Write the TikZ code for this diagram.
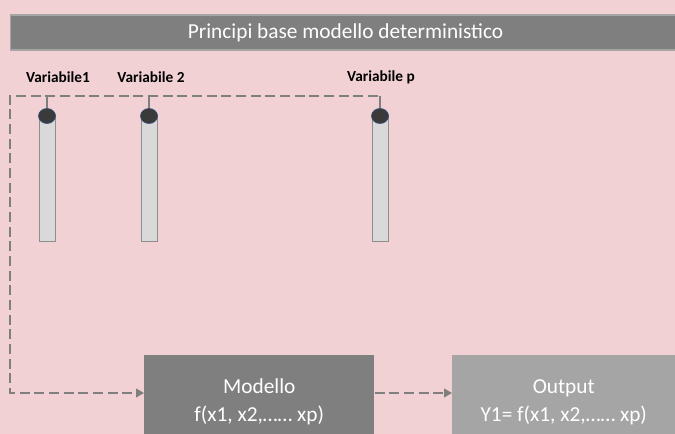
\documentclass[tikz,border=0pt]{standalone}
\usepackage{fontspec}
\setmainfont{Carlito}
\usetikzlibrary{arrows.meta,shapes.geometric,positioning}
\definecolor{bg}{HTML}{F1D1D4}
\definecolor{dark}{HTML}{7F7F7F}
\definecolor{light}{HTML}{A5A5A5}
\definecolor{rod}{HTML}{D9D9D9}
\definecolor{rodline}{HTML}{8E8E8E}
\definecolor{knob}{HTML}{3A3A3A}
\definecolor{knobline}{HTML}{34507A}
\tikzset{
  bar/.style={draw=light, line width=0.8pt, fill=dark, text=white, font=\fontsize{16}{18}\selectfont,
    minimum width=502.5pt, minimum height=26.25pt, inner sep=0pt},
  varlab/.style={font=\fontsize{11.5}{13}\selectfont\bfseries, inner sep=0pt},
  rodbox/.style={draw=rodline, line width=0.6pt, fill=rod, minimum width=12pt, minimum height=95pt, inner sep=0pt},
  knobnode/.style={ellipse, draw=knobline, line width=0.5pt, fill=knob, minimum width=12.75pt, minimum height=11.25pt, inner sep=0pt},
  tick/.style={draw=dark, line width=2pt},
  flow/.style={draw=dark, line width=2.1pt, dash pattern=on 7.5pt off 3.5pt,
    -{Triangle[length=6pt,width=6.5pt]}},
  blk/.style={minimum height=70.5pt, inner sep=0pt, align=center, text=white,
    font=\fontsize{16}{21}\selectfont},
}
\begin{document}
\begin{tikzpicture}[x=0.75pt,y=-0.75pt]
  \fill[bg] (0,0) rectangle (675,434);
  \useasboundingbox (0,0) rectangle (675,434);

  \node[bar, anchor=west] (title) at (10,32.5) {Principi base modello deterministico};

  % the p input variables
  \foreach \n/\x/\lx/\t in {1/47/58/Variabile1,2/149/151/Variabile 2,p/380/381/Variabile p} {
    \node[varlab] (lab\n) at (\lx,77) {\t};
    \node[rodbox, anchor=north] (rod\n) at (\x,114) {};
    \node[knobnode] (knob\n) at (\x,116) {};
  }

  \coordinate (feed) at (378,96);
  \coordinate (lane) at (10,393);
  \foreach \n in {1,2,p}
    \draw[tick] (knob\n.north |- feed) -- (knob\n.north);

  \node[blk, fill=dark, minimum width=172.5pt, anchor=north west] (modello) at (144,355)
    {Modello\\f(x1, x2,…… xp)};
  \node[blk, fill=light, minimum width=167.25pt, anchor=north west] (output) at (452,355)
    {Output\\Y1= f(x1, x2,…… xp)};

  \draw[flow] (feed) -- (lane |- feed) -- (lane) -- (modello.west |- lane);
  \draw[flow] (modello.east |- lane) -- (output.west |- lane);
\end{tikzpicture}
\end{document}
